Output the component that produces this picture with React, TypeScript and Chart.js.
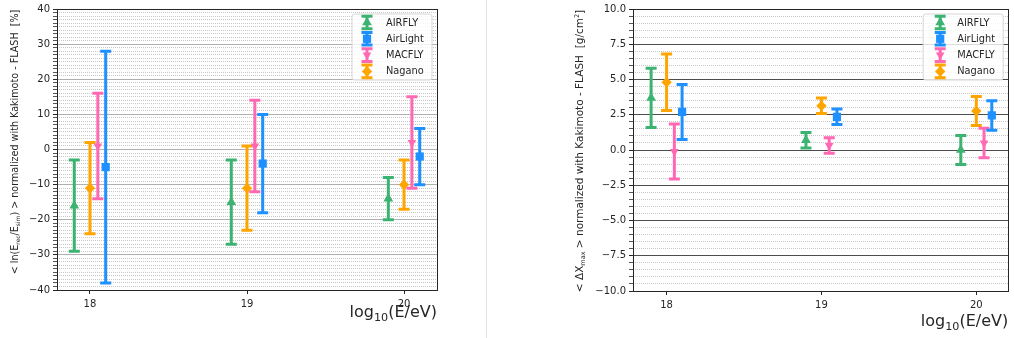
import React, { useEffect, useRef } from 'react';
import { Chart, registerables } from 'chart.js';

Chart.register(...registerables);

// ---------- data ----------
const ENERGIES = [18, 19, 20];
const SERIES = ['AIRFLY', 'AirLight', 'MACFLY', 'Nagano'];
const X_OFFSETS = [-0.1, 0.1, 0.05, 0.0];
const COLORS = ['#3cb371', '#1e90ff', '#ff69b4', '#ffa500'];
const MARKERS = ['triangle', 'rect', 'triangle', 'rectRot'];
const MARKER_ROT = [0, 0, 180, 0];
const MARKER_R = [5.6, 5.8, 5, 5.2];

// < ln(Erec/Esim) > [%]
const E_AIRFLY = [-16, -15, -14];
const E_AIRFLY_ERR = [13, 12, 6];
const E_AIRLIGHT = [-5, -4, -2];
const E_AIRLIGHT_ERR = [33, 14, 8];
const E_MACFLY = [1, 1, 2];
const E_MACFLY_ERR = [15, 13, 13];
const E_NAGANO = [-11, -11, -10];
const E_NAGANO_ERR = [13, 12, 7];

// < dXmax > [g/cm2]
const X_AIRFLY = [3.7, 0.7, 0.0];
const X_AIRFLY_ERR = [2.1, 0.55, 1.02];
const X_AIRLIGHT = [2.7, 2.35, 2.45];
const X_AIRLIGHT_ERR = [1.95, 0.55, 1.05];
const X_MACFLY = [-0.1, 0.32, 0.5];
const X_MACFLY_ERR = [1.95, 0.55, 1.05];
const X_NAGANO = [4.8, 3.13, 2.77];
const X_NAGANO_ERR = [2.0, 0.55, 1.03];

const X_TICKS = [18, 19, 20];
const E_Y_TICKS = [-40, -30, -20, -10, 0, 10, 20, 30, 40];
const E_Y_MINOR_STEP = 1;
const XMAX_Y_TICKS = [-10, -7.5, -5, -2.5, 0, 2.5, 5, 7.5, 10];
const XMAX_Y_MINOR_STEP = 0.5;

type Seg = { t: string; sub?: boolean; sup?: boolean };

const FAMILY = '"DejaVu Sans", sans-serif';

function drawRich(ctx: CanvasRenderingContext2D, segs: Seg[], size: number, x: number, y: number, align: 'center' | 'right', rotate: boolean, color: string, smallRatio = 0.7) {
  const small = size * smallRatio;
  const fontOf = (s: Seg) => `${s.sub || s.sup ? small : size}px ${FAMILY}`;
  ctx.save();
  let total = 0;
  const widths = segs.map((s) => {
    ctx.font = fontOf(s);
    const w = ctx.measureText(s.t).width;
    total += w;
    return w;
  });
  ctx.translate(x, y);
  if (rotate) ctx.rotate(-Math.PI / 2);
  let cx = align === 'center' ? -total / 2 : -total;
  ctx.textBaseline = 'alphabetic';
  ctx.textAlign = 'left';
  ctx.fillStyle = color;
  segs.forEach((s, i) => {
    ctx.font = fontOf(s);
    const dy = s.sub ? size * 0.22 : s.sup ? -size * 0.42 : 0;
    ctx.fillText(s.t, cx, dy);
    cx += widths[i];
  });
  ctx.restore();
}

function drawMarker(ctx: CanvasRenderingContext2D, style: string, x: number, y: number, r: number, rot: number) {
  ctx.beginPath();
  if (style === 'triangle') {
    let a = (rot * Math.PI) / 180 - Math.PI / 2;
    for (let k = 0; k < 3; k++) {
      const px = x + Math.cos(a) * r;
      const py = y + Math.sin(a) * r;
      if (k === 0) ctx.moveTo(px, py); else ctx.lineTo(px, py);
      a += (2 * Math.PI) / 3;
    }
    ctx.closePath();
  } else if (style === 'rect') {
    const s = r * Math.SQRT1_2;
    ctx.rect(x - s, y - s, 2 * s, 2 * s);
  } else {
    ctx.moveTo(x, y - r);
    ctx.lineTo(x + r, y);
    ctx.lineTo(x, y + r);
    ctx.lineTo(x - r, y);
    ctx.closePath();
  }
  ctx.fill();
}

function strokeErrorBar(ctx: CanvasRenderingContext2D, x: number, top: number, bot: number, cap: number) {
  ctx.beginPath();
  ctx.moveTo(x, top);
  ctx.lineTo(x, bot);
  ctx.moveTo(x - cap, top);
  ctx.lineTo(x + cap, top);
  ctx.moveTo(x - cap, bot);
  ctx.lineTo(x + cap, bot);
  ctx.stroke();
}

interface Cfg {
  width: number;
  yAxisWidth: number;
  padRight: number;
  padTop: number;
  xAxisHeight: number;
  yMin: number;
  yMax: number;
  xMin: number;
  xMax: number;
  majorTicks: number[];
  minorStep: number;
  majorColor: string;
  minorColor: string;
  decimals: number;
  values: number[][];
  errors: number[][];
  yTitle: Seg[];
  yTitleSize: number;
  yTitleX: number;
  yTitleY: number;
  xTitleBaseline: number;
  legendGlyphDx: number;
}

const X_TITLE: Seg[] = [{ t: 'log' }, { t: '10', sub: true }, { t: '(E/eV)' }];

function buildChart(canvas: HTMLCanvasElement, cfg: Cfg) {
  const isMajor = (v: number) => cfg.majorTicks.some((m) => Math.abs(m - v) < 1e-6);
  const yTickValues: number[] = [];
  const n = Math.round((cfg.yMax - cfg.yMin) / cfg.minorStep);
  for (let k = 0; k <= n; k++) yTickValues.push(+(cfg.yMin + k * cfg.minorStep).toFixed(4));
  const fmt = (v: number) => {
    const s = Math.abs(v).toFixed(cfg.decimals);
    return v < -1e-9 ? '\u2212' + s : s;
  };

  const datasets = SERIES.map((name, i) => ({
    label: name,
    data: ENERGIES.map((e, j) => ({ x: e + X_OFFSETS[i], y: cfg.values[i][j] })),
    errors: cfg.errors[i],
    backgroundColor: COLORS[i],
    borderColor: COLORS[i],
    borderWidth: 0,
    pointStyle: MARKERS[i],
    pointRotation: MARKER_ROT[i],
    pointRadius: MARKER_R[i],
    pointHoverRadius: MARKER_R[i],
  }));

  const errorBars = {
    id: 'errorBars',
    beforeDatasetDraw(chart: any, args: any) {
      const ds = chart.data.datasets[args.index];
      const xs = chart.scales.x;
      const ys = chart.scales.y;
      const ctx = chart.ctx as CanvasRenderingContext2D;
      ctx.save();
      ctx.strokeStyle = ds.borderColor;
      ctx.lineWidth = 3;
      ds.data.forEach((p: any, j: number) => {
        const e = ds.errors[j];
        strokeErrorBar(ctx, xs.getPixelForValue(p.x), ys.getPixelForValue(p.y + e), ys.getPixelForValue(p.y - e), 5.5);
      });
      ctx.restore();
    },
  };

  const decorations = {
    id: 'decorations',
    afterDraw(chart: any) {
      const ctx = chart.ctx as CanvasRenderingContext2D;
      const a = chart.chartArea;
      // frame
      ctx.save();
      ctx.strokeStyle = '#262626';
      ctx.lineWidth = 1;
      ctx.strokeRect(Math.round(a.left) + 0.5, Math.round(a.top) + 0.5, Math.round(a.right - a.left), Math.round(a.bottom - a.top));
      ctx.restore();
      // axis titles
      drawRich(ctx, cfg.yTitle, cfg.yTitleSize, cfg.yTitleX, cfg.yTitleY, 'center', true, '#262626', 0.62);
      drawRich(ctx, X_TITLE, 16, a.right, cfg.xTitleBaseline, 'right', false, '#262626');
      // legend
      const bw = 80;
      const bh = 66;
      const bx = a.right - 5 - bw;
      const by = a.top + 5;
      ctx.save();
      ctx.beginPath();
      const rr = 2.5;
      ctx.moveTo(bx + rr, by);
      ctx.arcTo(bx + bw, by, bx + bw, by + bh, rr);
      ctx.arcTo(bx + bw, by + bh, bx, by + bh, rr);
      ctx.arcTo(bx, by + bh, bx, by, rr);
      ctx.arcTo(bx, by, bx + bw, by, rr);
      ctx.closePath();
      ctx.fillStyle = 'rgba(255,255,255,0.8)';
      ctx.fill();
      ctx.strokeStyle = '#d6d6d6';
      ctx.lineWidth = 1;
      ctx.stroke();
      chart.data.datasets.forEach((ds: any, i: number) => {
        const cy = by + 8.5 + i * 16.3;
        const gx = bx + cfg.legendGlyphDx;
        ctx.strokeStyle = ds.borderColor;
        ctx.fillStyle = ds.backgroundColor;
        ctx.lineWidth = 3;
        strokeErrorBar(ctx, gx, cy - 6.3, cy + 6.3, 5.5);
        drawMarker(ctx, ds.pointStyle, gx, cy, ds.pointRadius, ds.pointRotation);
        ctx.fillStyle = '#262626';
        ctx.font = `9.8px ${FAMILY}`;
        ctx.textBaseline = 'middle';
        ctx.textAlign = 'left';
        ctx.fillText(ds.label, bx + 34, cy + 0.5);
      });
      ctx.restore();
    },
  };

  return new Chart(canvas, {
    type: 'scatter',
    data: { datasets: datasets as any },
    plugins: [errorBars, decorations],
    options: {
      responsive: false,
      animation: false,
      events: [],
      layout: { padding: { left: 0, top: cfg.padTop, right: cfg.padRight, bottom: 0 } },
      plugins: { legend: { display: false }, tooltip: { enabled: false } },
      scales: {
        x: {
          type: 'linear',
          min: cfg.xMin,
          max: cfg.xMax,
          afterBuildTicks: (s: any) => {
            s.ticks = X_TICKS.map((v) => ({ value: v }));
          },
          afterFit: (s: any) => {
            s.height = cfg.xAxisHeight;
          },
          grid: { drawOnChartArea: false, drawTicks: true, tickLength: 4, color: '#262626', tickColor: '#262626' },
          border: { display: false },
          ticks: {
            autoSkip: false,
            maxRotation: 0,
            padding: 4,
            color: '#262626',
            font: { family: FAMILY, size: 10 },
            callback: (v: any) => String(v),
          },
        },
        y: {
          type: 'linear',
          min: cfg.yMin,
          max: cfg.yMax,
          afterBuildTicks: (s: any) => {
            s.ticks = yTickValues.map((v) => ({ value: v }));
          },
          afterFit: (s: any) => {
            s.width = cfg.yAxisWidth;
          },
          grid: {
            drawTicks: true,
            tickLength: 4,
            lineWidth: 1,
            color: (c: any) => (c.tick && !isMajor(c.tick.value) ? cfg.minorColor : cfg.majorColor),
            tickColor: (c: any) => (c.tick && !isMajor(c.tick.value) ? '#555555' : '#262626'),
          },
          border: {
            display: false,
            dash: (c: any) => (c.tick && !isMajor(c.tick.value) ? [1, 1] : []),
          } as any,
          ticks: {
            autoSkip: false,
            padding: 3,
            color: '#262626',
            font: { family: FAMILY, size: 10 },
            callback: (v: any) => (isMajor(Number(v)) ? fmt(Number(v)) : ''),
          },
        },
      },
    } as any,
  });
}

const LEFT_CFG: Cfg = {
  width: 486,
  yAxisWidth: 57,
  padRight: 49,
  padTop: 8,
  xAxisHeight: 48,
  yMin: -40,
  yMax: 40,
  xMin: 17.79,
  xMax: 20.21,
  majorTicks: E_Y_TICKS,
  minorStep: E_Y_MINOR_STEP,
  majorColor: '#b0b0b0',
  minorColor: '#c8c8c8',
  decimals: 0,
  values: [E_AIRFLY, E_AIRLIGHT, E_MACFLY, E_NAGANO],
  errors: [E_AIRFLY_ERR, E_AIRLIGHT_ERR, E_MACFLY_ERR, E_NAGANO_ERR],
  yTitle: [
    { t: '< ln(E' },
    { t: 'rec', sub: true },
    { t: '/E' },
    { t: 'sim', sub: true },
    { t: ') > normalized with Kakimoto - FLASH  [%]' },
  ],
  yTitleSize: 9.6,
  yTitleX: 18,
  yTitleY: 142,
  xTitleBaseline: 317,
  legendGlyphDx: 15,
};

const RIGHT_CFG: Cfg = {
  width: 527,
  yAxisWidth: 146,
  padRight: 1,
  padTop: 7,
  xAxisHeight: 47,
  yMin: -10,
  yMax: 10,
  xMin: 17.783,
  xMax: 20.206,
  majorTicks: XMAX_Y_TICKS,
  minorStep: XMAX_Y_MINOR_STEP,
  majorColor: '#4d4d4d',
  minorColor: '#c8c8c8',
  decimals: 1,
  values: [X_AIRFLY, X_AIRLIGHT, X_MACFLY, X_NAGANO],
  errors: [X_AIRFLY_ERR, X_AIRLIGHT_ERR, X_MACFLY_ERR, X_NAGANO_ERR],
  yTitle: [
    { t: '< \u0394X' },
    { t: 'max', sub: true },
    { t: ' > normalized with Kakimoto - FLASH  [g/cm' },
    { t: '2', sup: true },
    { t: ']' },
  ],
  yTitleSize: 10.5,
  yTitleX: 96,
  yTitleY: 151,
  xTitleBaseline: 326,
  legendGlyphDx: 17,
};

export default function App() {
  const leftRef = useRef<HTMLCanvasElement>(null);
  const rightRef = useRef<HTMLCanvasElement>(null);
  useEffect(() => {
    const c1 = buildChart(leftRef.current!, LEFT_CFG);
    const c2 = buildChart(rightRef.current!, RIGHT_CFG);
    return () => {
      c1.destroy();
      c2.destroy();
    };
  }, []);
  return (
    <div style={{ position: 'fixed', left: 0, top: 0, width: 1014, height: 338, background: '#ffffff', overflow: 'hidden' }}>
      <canvas ref={leftRef} width={486} height={338} style={{ position: 'absolute', left: 0, top: 0, width: 486, height: 338 }} />
      <div style={{ position: 'absolute', left: 486, top: 0, width: 1, height: 338, background: '#e2e2e2' }} />
      <canvas ref={rightRef} width={527} height={338} style={{ position: 'absolute', left: 487, top: 0, width: 527, height: 338 }} />
    </div>
  );
}
